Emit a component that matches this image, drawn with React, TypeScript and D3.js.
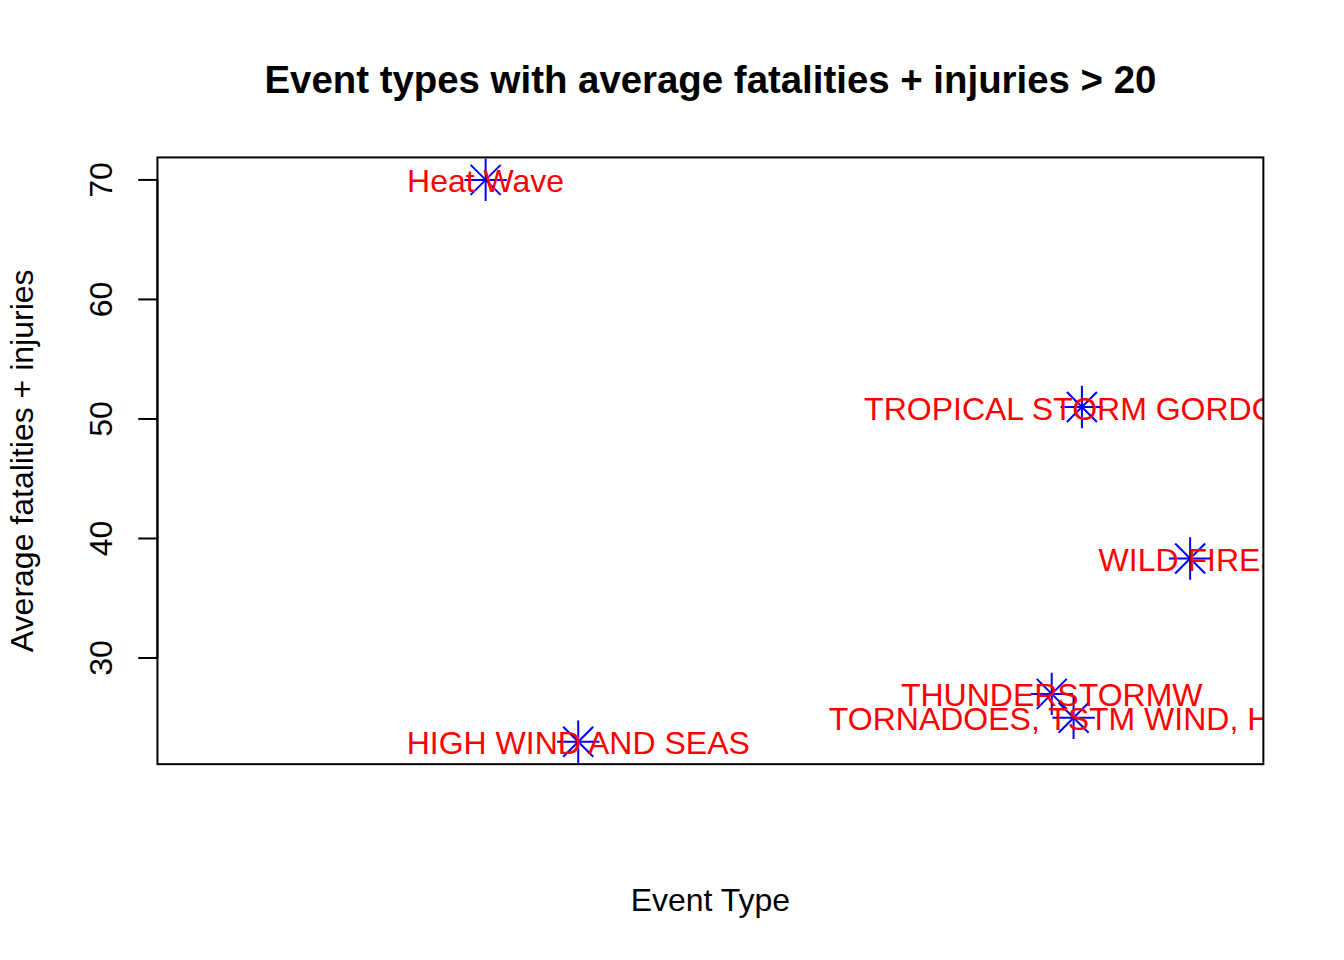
import React from "react";
import * as d3 from "d3";

const eventTypes = [
  "Heat Wave",
  "HIGH WIND AND SEAS",
  "THUNDERSTORMW",
  "TORNADOES, TSTM WIND, HAIL",
  "TROPICAL STORM GORDON",
  "WILD FIRES",
];
const eventIndex = [277, 366, 821, 842, 850, 954];
const avgHarm = [70, 23, 27, 25, 51, 38.33];
const yTicks = [30, 40, 50, 60, 70];
const indexRange = [1, 985];

const W = 1344;
const H = 960;
const line = 38.4;
const left = 4.1 * line;
const right = W - 2.1 * line;
const top = 4.1 * line;
const bottom = H - 5.1 * line;
const font = "'Liberation Sans', Arial, Helvetica, sans-serif";

function pad(ext: number[]) {
  const d = (ext[1] - ext[0]) * 0.04;
  return [ext[0] - d, ext[1] + d];
}

export default function App() {
  const yExt = d3.extent(avgHarm) as [number, number];
  const x = d3.scaleLinear().domain(pad(indexRange)).range([left, right]);
  const y = d3.scaleLinear().domain(pad(yExt)).range([bottom, top]);
  const r = 15;
  const rp = r * Math.SQRT2;
  const cx = (left + right) / 2;
  const cy = (top + bottom) / 2;

  return (
    <svg
      width={W}
      height={H}
      style={{ position: "absolute", left: 0, top: 0, background: "#fff" }}
      fontFamily={font}
    >
      <defs>
        <clipPath id="plotclip">
          <rect x={left} y={top} width={right - left} height={bottom - top} />
        </clipPath>
      </defs>
      <rect x={0} y={0} width={W} height={H} fill="#fff" />
      <text x={cx} y={93} textAnchor="middle" fontSize={38.4} fontWeight="bold">
        Event types with average fatalities + injuries &gt; 20
      </text>
      <g clipPath="url(#plotclip)">
        {eventTypes.map((name, i) => {
          const px = x(eventIndex[i]);
          const py = y(avgHarm[i]);
          return (
            <g key={"p" + name} stroke="#0000FF" strokeWidth={2} fill="none">
              <line x1={px - rp} y1={py} x2={px + rp} y2={py} />
              <line x1={px} y1={py - rp} x2={px} y2={py + rp} />
              <line x1={px - r} y1={py - r} x2={px + r} y2={py + r} />
              <line x1={px - r} y1={py + r} x2={px + r} y2={py - r} />
            </g>
          );
        })}
        {eventTypes.map((name, i) => (
          <text
            key={"t" + name}
            x={x(eventIndex[i])}
            y={y(avgHarm[i]) + 12.5}
            textAnchor="middle"
            fontSize={32}
            fill="#FF0000"
          >
            {name}
          </text>
        ))}
      </g>
      <rect
        x={left}
        y={top}
        width={right - left}
        height={bottom - top}
        fill="none"
        stroke="#000"
        strokeWidth={2}
      />
      {yTicks.map((t) => (
        <g key={t}>
          <line x1={left} x2={left - 19.2} y1={y(t)} y2={y(t)} stroke="#000" strokeWidth={2} />
          <text
            transform={`translate(112,${y(t)}) rotate(-90)`}
            textAnchor="middle"
            fontSize={32}
          >
            {t}
          </text>
        </g>
      ))}
      <line x1={left} x2={left} y1={y(yTicks[0])} y2={y(yTicks[yTicks.length - 1])} stroke="#000" strokeWidth={2} />
      <text transform={`translate(33,${cy}) rotate(-90)`} textAnchor="middle" fontSize={32}>
        Average fatalities + injuries
      </text>
      <text x={cx} y={911} textAnchor="middle" fontSize={32}>
        Event Type
      </text>
    </svg>
  );
}
